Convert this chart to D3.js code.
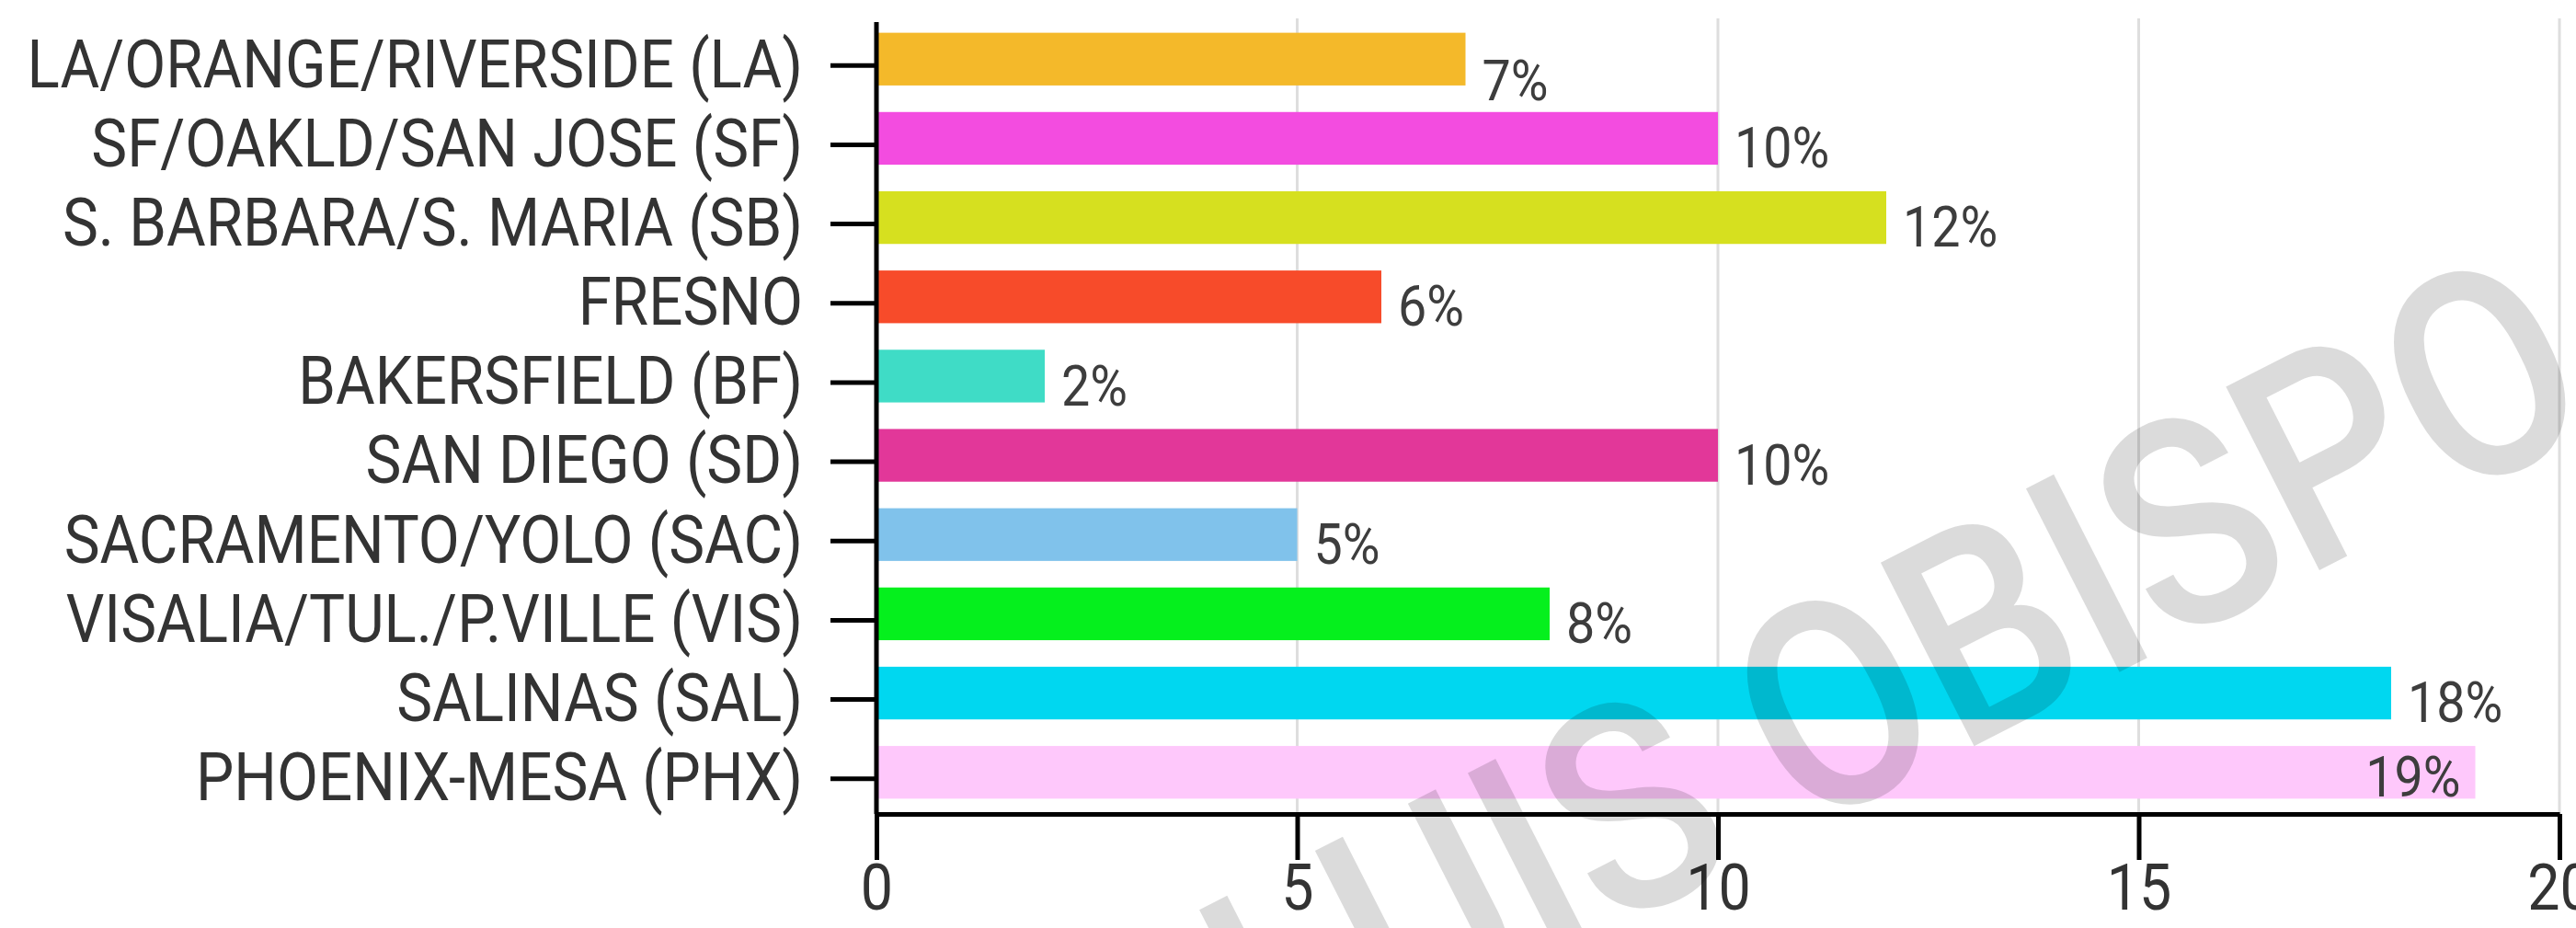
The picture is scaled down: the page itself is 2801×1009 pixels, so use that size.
<!DOCTYPE html>
<html>
<head>
<meta charset="utf-8">
<script src="https://cdn.jsdelivr.net/npm/d3@7"></script>
<style>
  body { margin: 0; background: #fff; }
  svg { display: block; font-family: Roboto, "Noto Sans", sans-serif; }
</style>
</head>
<body>
<div id="chart"></div>
<script>
// Step 1: data
// =================================
var categories = [
  "LA/ORANGE/RIVERSIDE (LA)",
  "SF/OAKLD/SAN JOSE (SF)",
  "S. BARBARA/S. MARIA (SB)",
  "FRESNO",
  "BAKERSFIELD (BF)",
  "SAN DIEGO (SD)",
  "SACRAMENTO/YOLO (SAC)",
  "VISALIA/TUL./P.VILLE (VIS)",
  "SALINAS (SAL)",
  "PHOENIX-MESA (PHX)"
];
var values = [7, 10, 12, 6, 2, 10, 5, 8, 18, 19];
var barColors = ["#f4b92a", "#f34ce0", "#d6e01f", "#f74b2a", "#3fdcc6",
                 "#e23799", "#80c2eb", "#05f01d", "#00d7f0", "#fec8fb"];
var xTicks = [0, 5, 10, 15, 20];
var watermark = "SAN LUIS OBISPO";

// Step 2: set up the chart
// =================================
var svgWidth = 2801;
var svgHeight = 1009;

var margin = {
  top: 24,
  right: 18,
  bottom: 124,
  left: 953
};

var width = svgWidth - margin.left - margin.right;
var height = svgHeight - margin.top - margin.bottom;

// condensed look of the original font
var squeeze = 0.897;

var svg = d3.select("#chart")
  .append("svg")
  .attr("width", svgWidth)
  .attr("height", svgHeight);

svg.append("rect")
  .attr("width", svgWidth)
  .attr("height", svgHeight)
  .attr("fill", "#fff");

var chartGroup = svg.append("g")
  .attr("transform", `translate(${margin.left}, ${margin.top})`);

// Step 3: scales
// =================================
var xLinearScale = d3.scaleLinear()
  .domain([0, 20])
  .range([0, width]);

var yBandScale = d3.scaleBand()
  .domain(categories)
  .range([3, height - 8])
  .paddingInner(0.335)
  .paddingOuter(0.1);

// Step 4: gridlines
// =================================
chartGroup.append("g")
  .selectAll("line")
  .data(xTicks.slice(1))
  .enter()
  .append("line")
  .attr("x1", d => xLinearScale(d))
  .attr("x2", d => xLinearScale(d))
  .attr("y1", -4)
  .attr("y2", height)
  .attr("stroke", "#dedede")
  .attr("stroke-width", 3);

// Step 5: bars
// =================================
var data = categories.map((c, i) => ({ name: c, value: values[i], color: barColors[i] }));

chartGroup.selectAll(".bar")
  .data(data)
  .enter()
  .append("rect")
  .attr("class", "bar")
  .attr("x", 0)
  .attr("y", d => yBandScale(d.name))
  .attr("width", d => xLinearScale(d.value))
  .attr("height", yBandScale.bandwidth())
  .attr("fill", d => d.color);

// value labels: right of the bar, or inside when there is no room
var labels = chartGroup.selectAll(".val")
  .data(data)
  .enter()
  .append("text")
  .attr("class", "val")
  .attr("font-size", 62)
  .attr("fill", "#3d3d3d")
  .text(d => d.value + "%");

labels.each(function(d, i) {
  var t = d3.select(this);
  var w = this.getComputedTextLength() * squeeze;
  var xEnd = xLinearScale(d.value);
  var yBase = yBandScale(d.name) + yBandScale.bandwidth();
  if (xEnd + 18 + w > width - 40) {
    t.attr("text-anchor", "end")
      .attr("transform", `translate(${xEnd - 16}, ${yBase - 2}) scale(${squeeze}, 1)`);
  } else {
    var drop = i === 0 ? 16 : 3;
    t.attr("transform", `translate(${xEnd + 18}, ${yBase + drop}) scale(${squeeze}, 1)`);
  }
});

// Step 6: axes
// =================================
var bottomAxis = d3.axisBottom(xLinearScale)
  .tickValues(xTicks)
  .tickSize(50)
  .tickSizeOuter(0)
  .tickPadding(14);

var leftAxis = d3.axisLeft(yBandScale)
  .tickSize(50)
  .tickSizeOuter(0)
  .tickPadding(30);

var xAxisG = chartGroup.append("g")
  .attr("transform", `translate(0, ${height})`)
  .call(bottomAxis);

var yAxisG = chartGroup.append("g")
  .call(leftAxis);

// ticks sit a little below the bar middles in the original
yAxisG.selectAll(".tick")
  .attr("transform", d => `translate(0, ${yBandScale(d) + yBandScale.bandwidth() / 2 + 7})`);

yAxisG.select(".domain").remove();
chartGroup.append("line")
  .attr("x1", 0)
  .attr("x2", 0)
  .attr("y1", 0)
  .attr("y2", height)
  .attr("stroke", "#000")
  .attr("stroke-width", 5);

[xAxisG, yAxisG].forEach(function(g) {
  g.selectAll(".domain, .tick line")
    .attr("stroke", "#000")
    .attr("stroke-width", 5);
  g.selectAll("text")
    .attr("font-family", "Roboto")
    .attr("fill", "#333");
});

yAxisG.selectAll("text")
  .attr("font-size", 73)
  .attr("x", 0)
  .attr("transform", `translate(-80, 0) scale(${squeeze}, 1)`);

// bottom numbers kept just inside the lower edge
xAxisG.selectAll("text")
  .attr("font-size", 70)
  .attr("y", 0)
  .attr("dy", null)
  .attr("transform", `translate(0, ${svgHeight - margin.top - height - 20}) scale(${squeeze}, 1)`);

// Step 7: watermark over everything
// =================================
svg.append("text")
  .attr("transform", "translate(2832, 462) rotate(-27) scale(0.88, 1)")
  .attr("text-anchor", "end")
  .attr("font-size", 315)
  .attr("font-weight", 500)
  .attr("fill", "#000")
  .attr("fill-opacity", 0.14)
  .text(watermark);
</script>
</body>
</html>
